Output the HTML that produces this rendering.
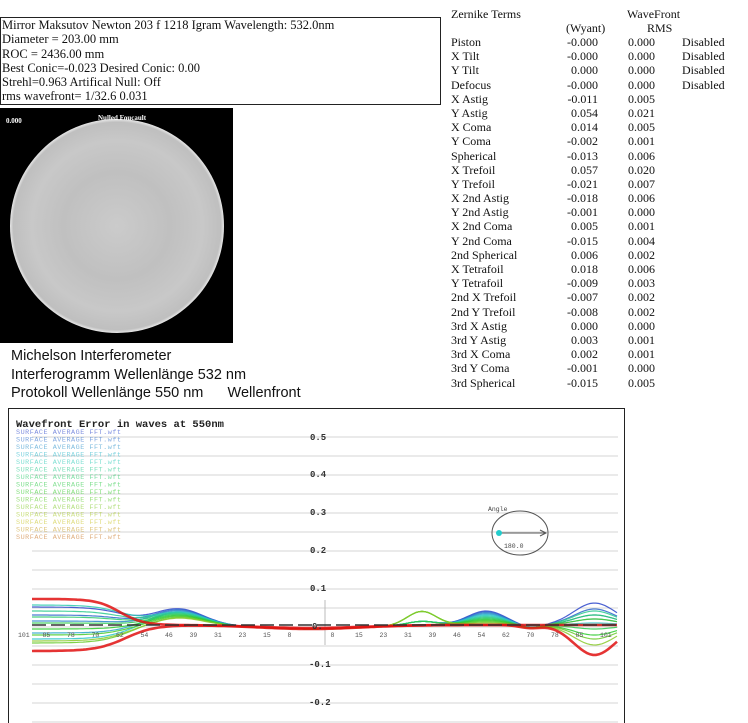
<!DOCTYPE html>
<html><head><meta charset="utf-8"><style>
body{margin:0;width:748px;height:723px;background:#fff;position:relative;overflow:hidden;font-family:"Liberation Serif",serif;color:#111}
.a{position:absolute;white-space:pre}
#info{position:absolute;left:0;top:17px;width:438px;height:86px;border:1px solid #222;font-size:12.5px;line-height:14.3px;padding-left:1px}
#img{position:absolute;left:0;top:108px;width:233px;height:235px;background:#000}
.s{font-family:"Liberation Sans",sans-serif;font-size:14.5px;left:11px}
#tbl{position:absolute;left:451px;top:35px;font-size:12px;line-height:14.2px}
#tbl div{position:relative;height:14.2px}
#tbl span{position:absolute;white-space:pre}
</style></head><body>
<div id="info">Mirror Maksutov Newton 203 f 1218  Igram Wavelength: 532.0nm<br>Diameter =  203.00 mm<br>ROC = 2436.00 mm<br>Best Conic=-0.023 Desired Conic:  0.00<br> Strehl=0.963  Artifical Null: Off<br>rms wavefront= 1/32.6  0.031</div>
<div id="img"><svg width="233" height="235"><defs><radialGradient id="g" cx="50%" cy="50%" r="50%"><stop offset="0" stop-color="#cbcbcb"/><stop offset="0.5" stop-color="#c0c0c0"/><stop offset="0.8" stop-color="#c8c8c8"/><stop offset="0.97" stop-color="#bfbfbf"/><stop offset="1" stop-color="#e8e8e8"/></radialGradient></defs><circle cx="117" cy="118" r="107" fill="url(#g)"/><text x="6" y="15" fill="#fff" font-size="7" font-weight="bold" font-family="Liberation Serif">0.000</text><text x="98" y="12" fill="#fff" font-size="7" font-weight="bold" font-family="Liberation Serif">Nulled Foucault</text></svg></div>
<div class="a s" style="top:348px">Michelson Interferometer</div>
<div class="a s" style="top:367px">Interferogramm Wellenlänge 532 nm</div>
<div class="a s" style="top:385px">Protokoll Wellenlänge 550 nm      Wellenfront</div>
<div class="a" style="left:451px;top:7px;font-size:12px">Zernike Terms</div>
<div class="a" style="left:627px;top:7px;font-size:12px">WaveFront</div>
<div class="a" style="left:566px;top:21px;font-size:12px">(Wyant)</div>
<div class="a" style="left:647px;top:21px;font-size:12px">RMS</div>
<div id="tbl"></div>
<svg id="ch" style="position:absolute;left:0;top:0" width="748" height="723"></svg>
<script>
var rows=[["Piston","-0.000","0.000","Disabled"],["X Tilt","-0.000","0.000","Disabled"],["Y Tilt","0.000","0.000","Disabled"],["Defocus","-0.000","0.000","Disabled"],["X Astig","-0.011","0.005"],["Y Astig","0.054","0.021"],["X Coma","0.014","0.005"],["Y Coma","-0.002","0.001"],["Spherical","-0.013","0.006"],["X Trefoil","0.057","0.020"],["Y Trefoil","-0.021","0.007"],["X 2nd Astig","-0.018","0.006"],["Y 2nd Astig","-0.001","0.000"],["X 2nd Coma","0.005","0.001"],["Y 2nd Coma","-0.015","0.004"],["2nd Spherical","0.006","0.002"],["X Tetrafoil","0.018","0.006"],["Y Tetrafoil","-0.009","0.003"],["2nd X Trefoil","-0.007","0.002"],["2nd Y Trefoil","-0.008","0.002"],["3rd X Astig","0.000","0.000"],["3rd Y Astig","0.003","0.001"],["3rd X Coma","0.002","0.001"],["3rd Y Coma","-0.001","0.000"],["3rd Spherical","-0.015","0.005"]];
var h="";rows.forEach(function(r){h+='<div><span style="left:0">'+r[0]+'</span><span style="left:87px;width:60px;text-align:right">'+r[1]+'</span><span style="left:177px">'+r[2]+'</span><span style="left:231px">'+(r[3]||"")+'</span></div>';});
document.getElementById("tbl").innerHTML=h;
var s='<rect x="8.5" y="408.5" width="616" height="320" fill="#fff" stroke="#222"/>';
for(var y=437;y<723;y+=19){s+='<line x1="32" x2="618" y1="'+y+'" y2="'+y+'" stroke="#ddd" stroke-width="1.2"/>';}
var lab=[["0.5",437],["0.4",474],["0.3",512],["0.2",550],["0.1",588],["-0.1",664],["-0.2",702]];
lab.forEach(function(l){s+='<text x="'+(l[0][0]=="-"?309:310)+'" y="'+(l[1]+3)+'" font-family="Liberation Mono" font-weight="bold" font-size="9" fill="#333">'+l[0]+'</text>';});
s+='<text x="16" y="427" font-family="Liberation Mono" font-weight="bold" font-size="10.5" fill="#222">Wavefront Error in waves at 550nm</text>';
function col(u){var hue=230-u*200;return "hsl("+hue+",65%,48%)";}
for(var i=0;i<15;i++){s+='<text x="16" y="'+(434+i*7.5)+'" font-family="Liberation Mono" font-size="6.8" textLength="105" fill="'+col(i/14)+'" opacity="0.6">SURFACE AVERAGE FFT.wft</text>';}
s+='<line x1="325" x2="325" y1="600" y2="645" stroke="#bbb"/>';
function g(t,c,w){return Math.exp(-Math.pow((t-c)/w,2));}
function sig(t,c,w){return 1/(1+Math.exp((t-c)/w));}
var edgeL=[18,10,4,-8,-14,20,14,8,2,-4,-10,-18,-16,26,-26];
var edgeR=[22,16,10,6,2,0,14,10,-4,-10,6,-14,-20,-18,-30];
for(var k=0;k<15;k++){var u=k/14;
 var red=(k>=13);var c=red?"#e01010":col(u*0.85);var sw=red?2.6:1.2;
 var bumpL=red?0:(16-10*u), bumpR1=red?0:(u>0.6?14:4), bumpR2=red?0:(14*(1-u));
 var d="";for(var x=32;x<=618;x+=3){var tt=(x-325)/293;
 var p=edgeL[k]*sig(tt,-0.68,0.05)+bumpL*g(tt,-0.5,0.12)-4*g(tt,-0.05,0.25)+bumpR1*g(tt,0.33,0.07)+bumpR2*g(tt,0.55,0.09)-3*g(tt,0.7,0.05)+edgeR[k]*g(tt,0.92,0.1);
 if(red&&k==13)p=edgeL[k]*sig(tt,-0.7,0.04)-3*g(tt,-0.05,0.25);
 d+=(x==32?"M":"L")+x+","+(625-p).toFixed(1);}
 s+='<path d="'+d+'" fill="none" stroke="'+c+'" stroke-width="'+sw+'" opacity="0.85"/>';}
s+='<line x1="32" x2="618" y1="625" y2="625" stroke="#333" stroke-width="1.5" stroke-dasharray="14,5"/>';
var xl=["101","85","78","70","62","54","46","39","31","23","15","8"];
for(var i=0;i<12;i++){s+='<text x="'+(18+i*24.5)+'" y="637" font-family="Liberation Mono" font-size="6.5" fill="#555">'+xl[i]+'</text>';s+='<text x="'+(600-i*24.5)+'" y="637" font-family="Liberation Mono" font-size="6.5" fill="#555">'+xl[i]+'</text>';}
s+='<text x="312" y="629" font-family="Liberation Mono" font-weight="bold" font-size="9" fill="#333">0.</text>';
s+='<ellipse cx="520" cy="533" rx="28" ry="22" fill="none" stroke="#555"/><line x1="499" y1="533" x2="546" y2="533" stroke="#555"/><path d="M540,530 L546,533 L540,536" fill="none" stroke="#555"/><circle cx="499" cy="533" r="3" fill="#2cc"/><text x="488" y="511" font-family="Liberation Mono" font-size="6.5" fill="#444">Angle</text><text x="504" y="548" font-family="Liberation Mono" font-size="6.5" fill="#444">180.0</text>';
document.getElementById("ch").innerHTML=s;
</script>
</body></html>
